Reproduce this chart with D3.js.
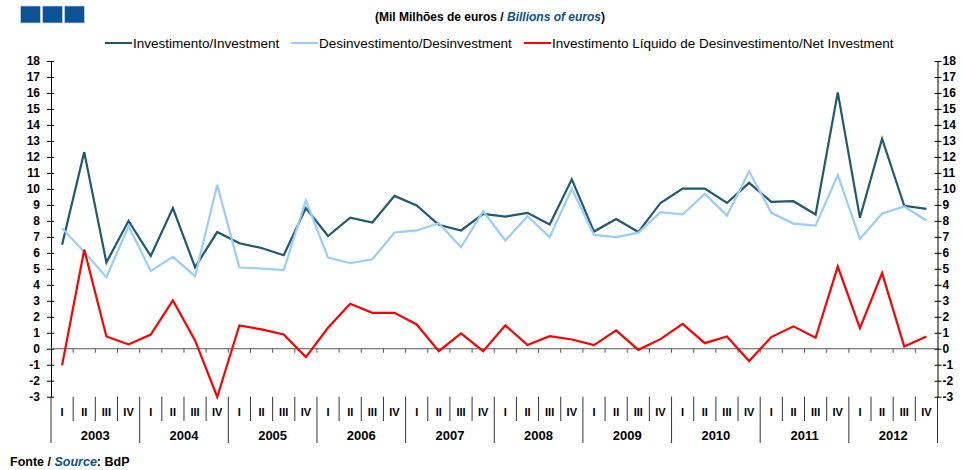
<!DOCTYPE html>
<html>
<head>
<meta charset="utf-8">
<script src="https://cdn.jsdelivr.net/npm/d3@7"></script>
<style>
  body { margin: 0; background: #fff; }
  text { font-family: "Liberation Sans", Arial, sans-serif; }
</style>
</head>
<body>
<div id="chart"></div>
<script>
// quarters 2003 - 2012
var years = ["2003","2004","2005","2006","2007","2008","2009","2010","2011","2012"];
var quarters = ["I","II","III","IV"];

// Investimento / Investment (bn euros)
var investimento = [
  6.5, 12.3, 5.4, 8.0,
  5.8, 8.8, 5.1, 7.3,
  6.6, 6.3, 5.85, 8.8,
  7.05, 8.2, 7.9, 9.56,
  8.96, 7.75, 7.4, 8.44,
  8.27, 8.5, 7.77, 10.6,
  7.33, 8.12, 7.3, 9.12,
  10.02, 10.02, 9.12, 10.38,
  9.19, 9.23, 8.4, 16.04,
  8.19, 13.14, 8.94, 8.75
];

// Desinvestimento / Disinvestment
var desinvestimento = [
  7.54, 6.05, 4.48, 7.66,
  4.87, 5.75, 4.54, 10.25,
  5.08, 5.02, 4.92, 9.29,
  5.7, 5.35, 5.6, 7.27,
  7.4, 7.85, 6.35, 8.6,
  6.77, 8.29, 6.98, 10.0,
  7.12, 6.98, 7.26, 8.54,
  8.4, 9.69, 8.33, 11.1,
  8.5, 7.83, 7.7, 10.87,
  6.87, 8.46, 8.9, 8.02
];

// Investimento liquido / Net investment
var liquido = [
  -1.04, 6.2, 0.77, 0.27,
  0.89, 3.02, 0.52, -3.02,
  1.46, 1.21, 0.89, -0.52,
  1.31, 2.81, 2.25, 2.25,
  1.52, -0.15, 0.96, -0.15,
  1.46, 0.23, 0.79, 0.58,
  0.23, 1.15, -0.07, 0.6,
  1.56, 0.35, 0.77, -0.77,
  0.73, 1.4, 0.69, 5.14,
  1.29, 4.73, 0.14, 0.77
];

var yTicks = d3.range(-3, 19);

var series = [
  {name: "Investimento/Investment", values: investimento, color: "#1f5872"},
  {name: "Desinvestimento/Desinvestment", values: desinvestimento, color: "#99ccff"},
  {name: "Investimento Líquido de Desinvestimento/Net Investment", values: liquido, color: "#ff0000"}
];

var W = 962, H = 470;
var plotLeft = 51, plotRight = 937.5, plotTop = 61, plotBottom = 396.7;

var svg = d3.select("#chart").append("svg")
  .attr("width", W).attr("height", H);

// category keys
var cats = [];
years.forEach(function(yr) {
  quarters.forEach(function(q) { cats.push(yr + "-" + q); });
});

var x = d3.scaleBand().domain(cats).range([plotLeft, plotRight]).padding(0);
var y = d3.scaleLinear().domain([-3, 18]).range([plotBottom, plotTop]);

// header squares
[20.5, 42.5, 64.5].forEach(function(sx) {
  svg.append("rect")
    .attr("x", sx).attr("y", 6).attr("width", 20).attr("height", 17)
    .attr("fill", "#0b5394")
    .attr("stroke", "#c9d9ea").attr("stroke-width", 0.7);
});

// title
var title = svg.append("text")
  .attr("x", 490).attr("y", 21)
  .attr("text-anchor", "middle")
  .style("font-size", "12px").style("font-weight", "bold")
  .attr("fill", "#000");
title.append("tspan").text("(Mil Milhões de euros / ");
title.append("tspan").text("Billions of euros").attr("fill", "#0b4f8a").style("font-style", "italic");
title.append("tspan").text(")");

// legend
var legendPos = [105, 291, 524];
series.forEach(function(s, i) {
  var g = svg.append("g").attr("transform", "translate(" + legendPos[i] + ",43)");
  g.append("line").attr("x1", 0).attr("x2", 27).attr("y1", 0).attr("y2", 0)
    .attr("stroke", s.color).attr("stroke-width", 2);
  g.append("text").attr("x", 28).attr("y", 4.5)
    .style("font-size", "13.5px").text(s.name);
});

var fmt = function(d) { return String(d); }; // plain hyphen minus like the original

// left axis
var yAxisL = d3.axisLeft(y).tickValues(yTicks).tickFormat(fmt).tickSize(0).tickPadding(11);
var gl = svg.append("g").attr("transform", "translate(" + plotLeft + ",0)").call(yAxisL);
gl.select(".domain").attr("stroke", "#000");
gl.selectAll(".tick line").remove();
gl.selectAll(".tick").append("line").attr("x1", -4).attr("x2", 3).attr("stroke", "#000");
gl.selectAll("text").style("font-size", "12px").style("font-weight", "bold")
  .style("font-family", "'Liberation Sans', Arial, sans-serif");

// right axis
var yAxisR = d3.axisRight(y).tickValues(yTicks).tickFormat(fmt).tickSize(0).tickPadding(5);
var gr = svg.append("g").attr("transform", "translate(" + plotRight + ",0)").call(yAxisR);
gr.select(".domain").attr("stroke", "#000");
gr.selectAll(".tick line").remove();
gr.selectAll(".tick").append("line").attr("x1", -3).attr("x2", 4).attr("stroke", "#000");
gr.selectAll("text").style("font-size", "12px").style("font-weight", "bold")
  .style("font-family", "'Liberation Sans', Arial, sans-serif");

// zero line with ticks at quarter boundaries
svg.append("line")
  .attr("x1", plotLeft).attr("x2", plotRight).attr("y1", y(0)).attr("y2", y(0))
  .attr("stroke", "#555").attr("stroke-width", 1);
svg.selectAll(".zt").data(cats.slice(1)).enter().append("line")
  .attr("x1", function(d) { return x(d); }).attr("x2", function(d) { return x(d); })
  .attr("y1", y(0)).attr("y2", y(0) + 4)
  .attr("stroke", "#555");

// category separators below the chart
svg.selectAll(".qs").data(cats).enter().append("line")
  .attr("x1", function(d) { return x(d); }).attr("x2", function(d) { return x(d); })
  .attr("y1", plotBottom).attr("y2", function(d) { return d.endsWith("-I") ? 443 : 421; })
  .attr("stroke", "#000").attr("stroke-width", 0.8);
svg.append("line")
  .attr("x1", plotRight).attr("x2", plotRight).attr("y1", plotBottom).attr("y2", 443)
  .attr("stroke", "#000").attr("stroke-width", 0.8);

// quarter labels
svg.selectAll(".ql").data(cats).enter().append("text")
  .attr("x", function(d) { return x(d) + x.bandwidth() / 2; })
  .attr("y", 416)
  .attr("text-anchor", "middle")
  .style("font-size", "11px").style("font-weight", "bold")
  .text(function(d) { return d.split("-")[1]; });

// year labels
svg.selectAll(".yl").data(years).enter().append("text")
  .attr("x", function(d) { return x(d + "-I") + 2 * x.bandwidth(); })
  .attr("y", 440)
  .attr("text-anchor", "middle")
  .style("font-size", "13px").style("font-weight", "bold")
  .text(function(d) { return d; });

// lines
var line = d3.line()
  .x(function(d, i) { return x(cats[i]) + x.bandwidth() / 2; })
  .y(function(d) { return y(d); });

series.forEach(function(s) {
  svg.append("path")
    .datum(s.values)
    .attr("fill", "none")
    .attr("stroke", s.color)
    .attr("stroke-width", 2.2)
    .attr("stroke-linejoin", "miter")
    .attr("d", line);
});

// source
var src = svg.append("text").attr("x", 10).attr("y", 466)
  .style("font-size", "12.5px").style("font-weight", "bold");
src.append("tspan").text("Fonte / ");
src.append("tspan").text("Source").attr("fill", "#0b4f8a").style("font-style", "italic");
src.append("tspan").text(": BdP");
</script>
</body>
</html>
